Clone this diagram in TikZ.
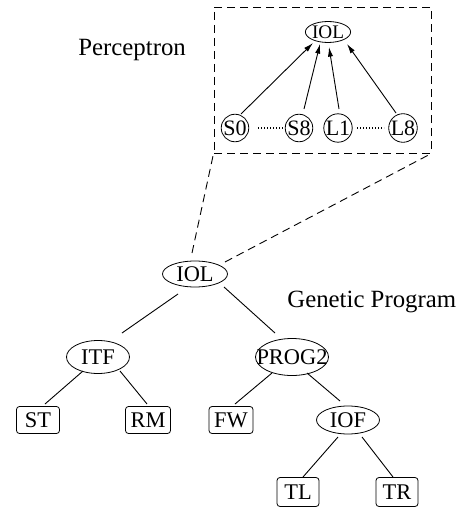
\documentclass[tikz,border=0pt]{standalone}
\usepackage{fontspec}
\setmainfont{Liberation Serif}
\usetikzlibrary{calc,arrows.meta,shapes.geometric}
\begin{document}
\begin{tikzpicture}[x=0.5pt,y=-0.5pt,
  ell/.style={draw,ellipse,inner sep=0pt,font=\fontsize{11.2}{13}\selectfont},
  leaf/.style={draw,rectangle,rounded corners=1.5pt,inner sep=0pt,minimum height=13.5pt,font=\fontsize{11.2}{13}\selectfont},
  inp/.style={draw,circle,inner sep=0pt,minimum size=13pt,font=\fontsize{11}{12}\selectfont},
  lab/.style={anchor=base west,inner sep=0pt,font=\fontsize{12.4}{14}\selectfont},
  edge/.style={line width=0.45pt},
  arr/.style={line width=0.45pt,-{Latex[length=4.8pt,width=2.6pt]}},
  dots/.style={line width=0.6pt,dash pattern=on 0.6pt off 0.9pt},
  dsh/.style={line width=0.45pt,dash pattern=on 4pt off 2.5pt}]
\useasboundingbox (0,0) rectangle (460,508);
% perceptron box
\node[draw,dsh,rectangle,inner sep=0pt,minimum width=108.5pt,minimum height=73pt] (pbox) at (322.5,80) {};
\node[lab] (plab) at (78,56) {Perceptron};
\node[ell,minimum width=22.5pt,minimum height=10.5pt,font=\fontsize{9.6}{11}\selectfont] (pIOL) at (328,32) {IOL};
\node[inp] (S0) at (235,128) {S0};
\node[inp] (S8) at (299,128) {S8};
\node[inp] (L1) at (338,128) {L1};
\node[inp] (L8) at (403,128) {L8};
\draw[arr] ($(S0)+(6,-14)$) -- ($(pIOL)+(-15,11)$);
\draw[arr] ($(S8)+(5,-19)$) -- ($(pIOL)+(-8,12)$);
\draw[arr] ($(L1)+(1,-19)$) -- ($(pIOL)+(1,15)$);
\draw[arr] ($(L8)+(-7,-15)$) -- ($(pIOL)+(19,12)$);
\draw[dots] ($(S0)+(23,0)$) -- ($(S8)+(-16,0)$);
\draw[dots] ($(L1)+(19,0)$) -- ($(L8)+(-19,0)$);
% genetic program
\node[lab] (glab) at (287,307) {Genetic Program};
\node[ell,minimum width=32.5pt,minimum height=13pt] (bIOL) at (195,274) {IOL};
\node[ell,minimum width=31.5pt,minimum height=16.5pt] (ITF) at (98,357) {ITF};
\node[ell,inner xsep=-5pt,minimum width=36.5pt,minimum height=18.5pt] (PROG2) at (292,357) {PROG2};
\node[ell,minimum width=31.5pt,minimum height=14pt] (IOF) at (348,420) {IOF};
\node[leaf,minimum width=21.5pt] (ST) at (38,420) {ST};
\node[leaf,minimum width=22.5pt] (RM) at (148,420) {RM};
\node[leaf,minimum width=22pt] (FW) at (231,420) {FW};
\node[leaf,minimum width=21pt,minimum height=14.5pt] (TL) at (298,492) {TL};
\node[leaf,minimum width=21pt,minimum height=14.5pt] (TR) at (397,492) {TR};
\draw[dsh] ($(bIOL)+(-3,-21)$) -- (pbox.south west);
\draw[dsh] ($(bIOL)+(30,-12)$) -- (pbox.south east);
\draw[edge] ($(bIOL)+(-17,20)$) -- ($(ITF)+(24,-24)$);
\draw[edge] ($(bIOL)+(29,13)$) -- ($(PROG2)+(-17,-24)$);
\draw[edge] ($(ITF)+(-15,14)$) -- ($(ST)+(7,-16)$);
\draw[edge] ($(ITF)+(22,14)$) -- ($(RM)+(-1,-16)$);
\draw[edge] ($(PROG2)+(-20,16)$) -- ($(FW)+(4,-16)$);
\draw[edge] ($(PROG2)+(15,16)$) -- ($(IOF)+(-8,-19)$);
\draw[edge] ($(IOF)+(-10,17)$) -- ($(TL)+(5,-15)$);
\draw[edge] ($(IOF)+(14,17)$) -- ($(TR)+(-4,-15)$);
\end{tikzpicture}
\end{document}
